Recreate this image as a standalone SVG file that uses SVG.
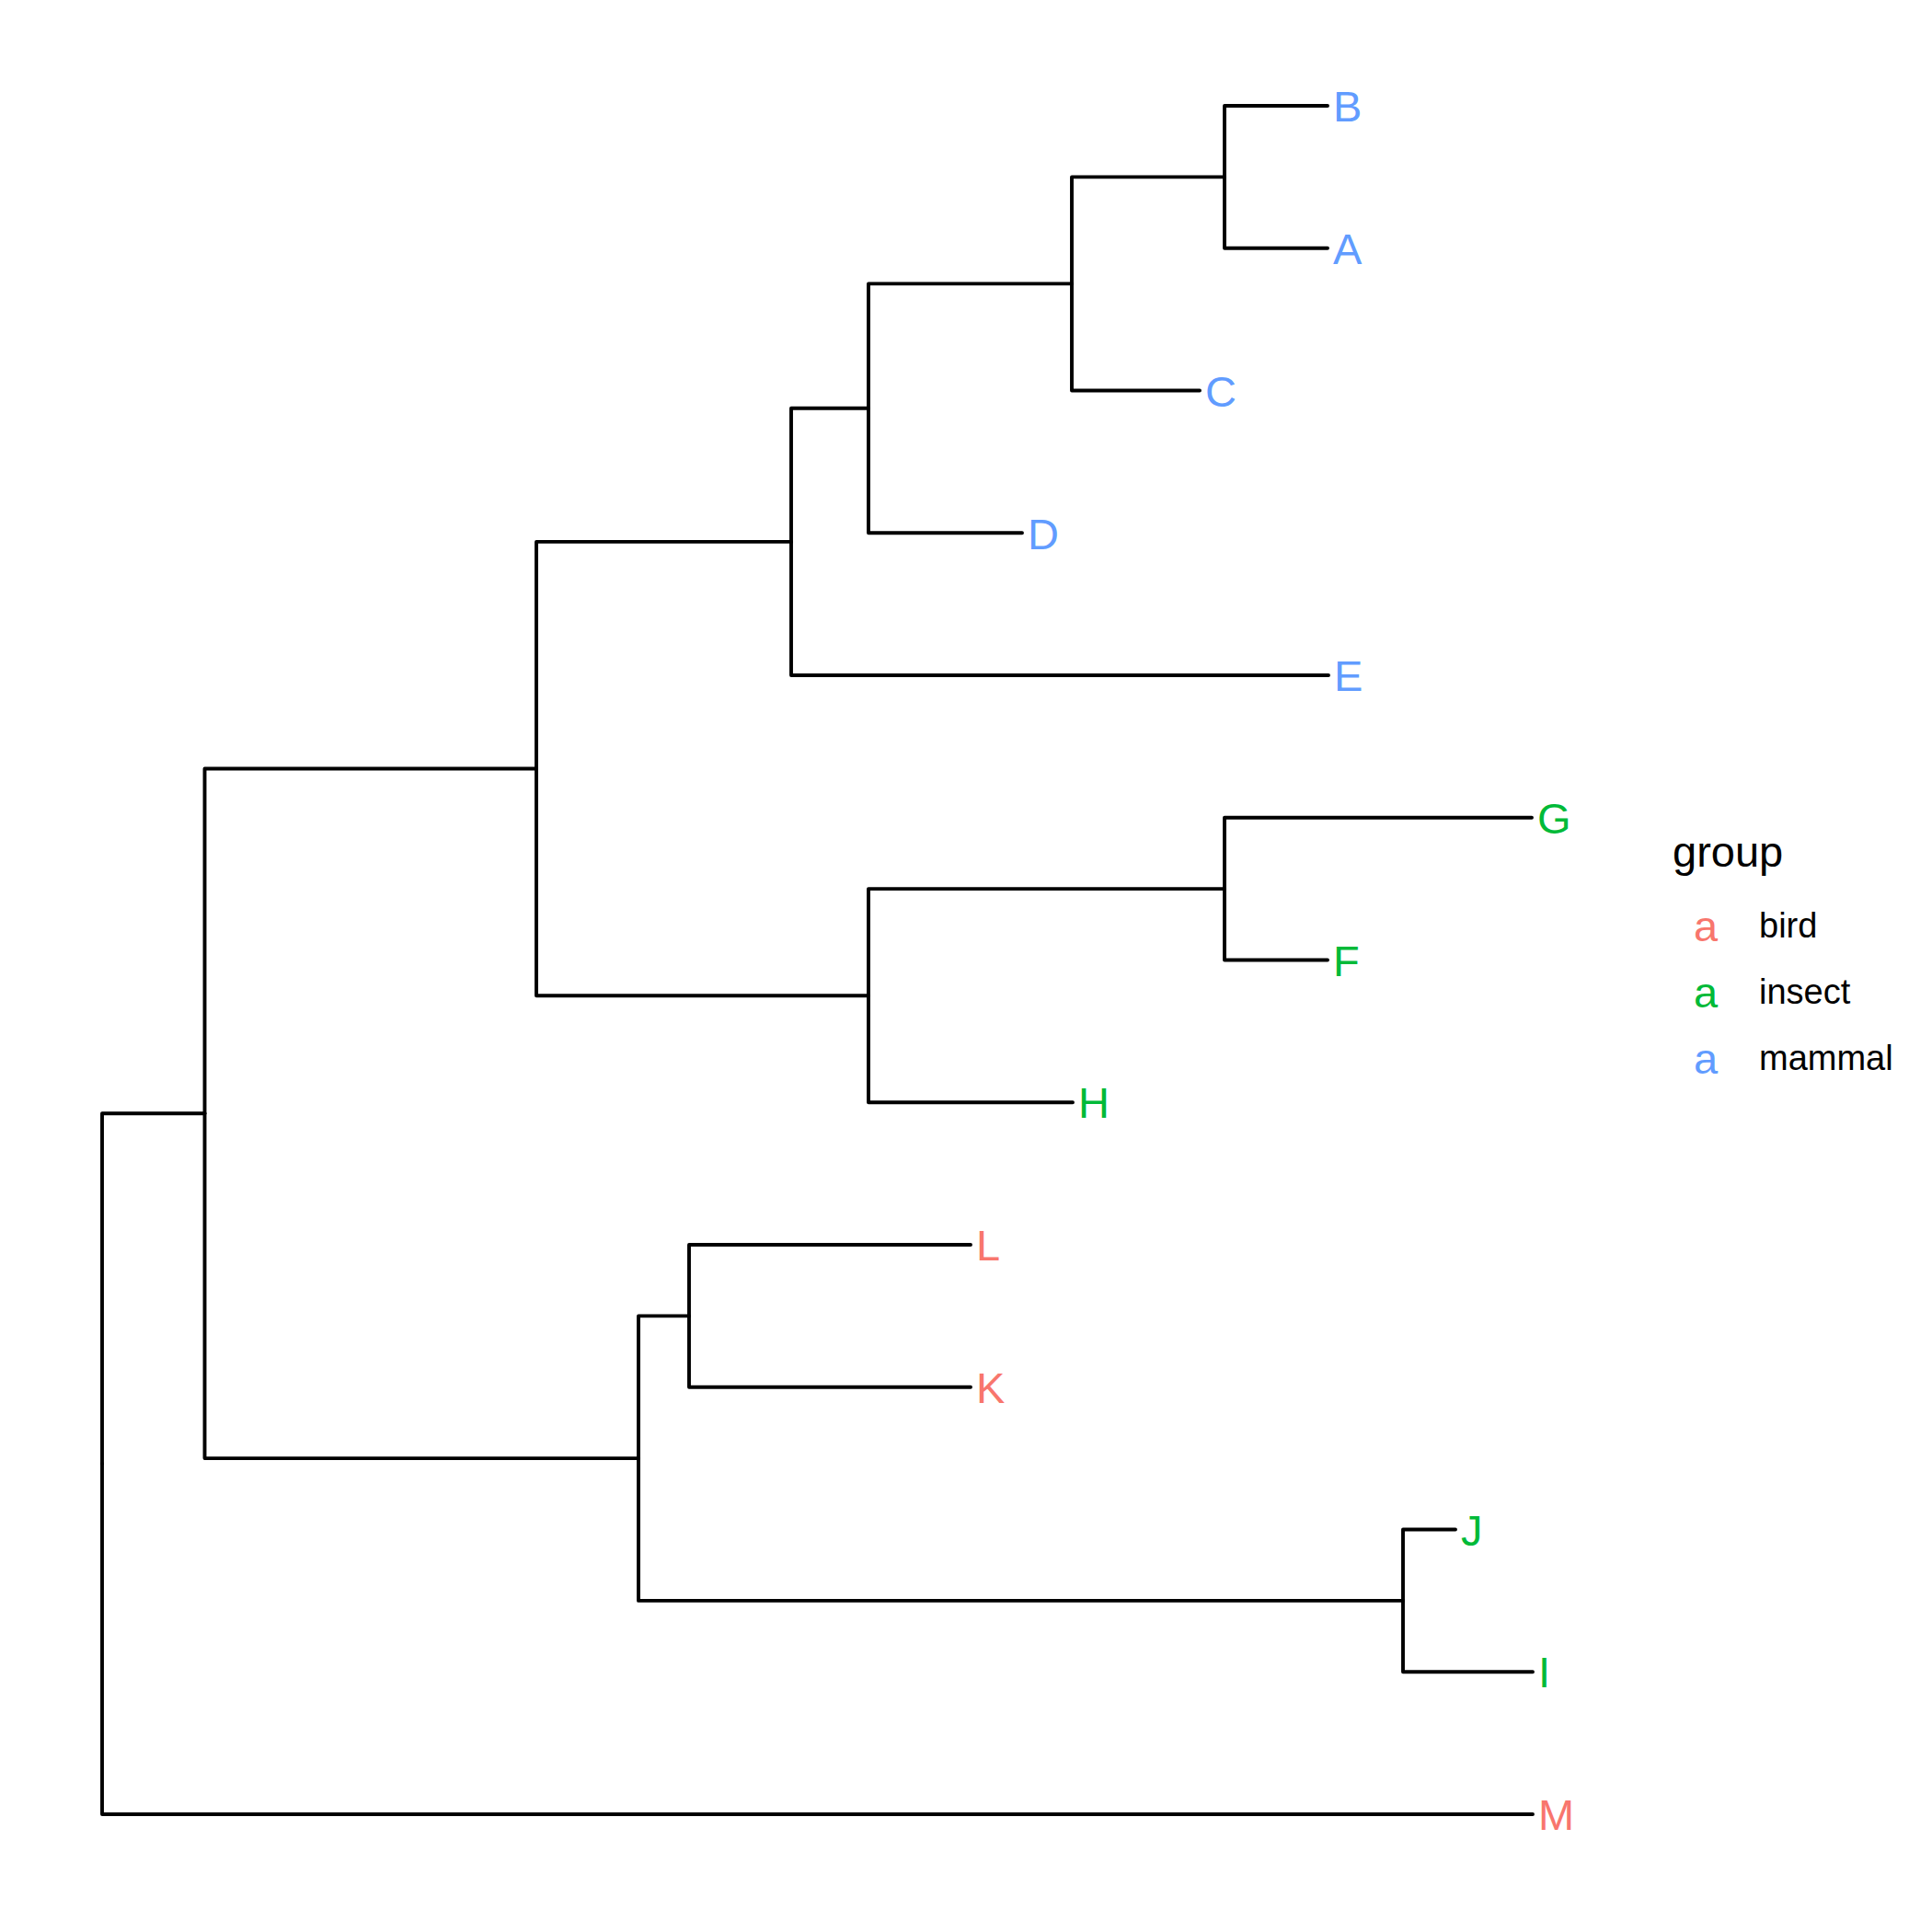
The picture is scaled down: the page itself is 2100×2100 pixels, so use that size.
<svg xmlns="http://www.w3.org/2000/svg" width="2100" height="2100" viewBox="0 0 2100 2100">
<style>
.e{fill:none;stroke:#000;stroke-width:3.9;stroke-linecap:round;stroke-linejoin:round}
.t{font-family:"Liberation Sans",Arial,sans-serif;font-size:47px}
.bird{fill:#F8766D}.insect{fill:#00BA38}.mammal{fill:#619CFF}
.lt{font-family:"Liberation Sans",Arial,sans-serif;font-size:38px;fill:#000}
.title{font-family:"Liberation Sans",Arial,sans-serif;font-size:47px;fill:#000}
</style>
<rect width="2100" height="2100" fill="#fff"/>
<g id="connectors">
<path class="e" d="M111 1591 V1210.3 H222.5"/>
<path class="e" d="M111 1591 V1972 H1666"/>
<path class="e" d="M222.5 1210.3 V835.5 H583"/>
<path class="e" d="M222.5 1210.3 V1585.1 H694"/>
<path class="e" d="M583 835.5 V588.9 H860"/>
<path class="e" d="M583 835.5 V1082.2 H944"/>
<path class="e" d="M860 588.9 V443.8 H944"/>
<path class="e" d="M860 588.9 V734 H1444"/>
<path class="e" d="M944 443.8 V308.4 H1165"/>
<path class="e" d="M944 443.8 V579.25 H1111"/>
<path class="e" d="M1165 308.4 V192.4 H1331"/>
<path class="e" d="M1165 308.4 V424.5 H1304"/>
<path class="e" d="M1331 192.4 V115 H1443"/>
<path class="e" d="M1331 192.4 V269.75 H1443"/>
<path class="e" d="M944 1082.2 V966.1 H1331"/>
<path class="e" d="M944 1082.2 V1198.25 H1166"/>
<path class="e" d="M1331 966.1 V888.75 H1665"/>
<path class="e" d="M1331 966.1 V1043.5 H1443"/>
<path class="e" d="M694 1585.1 V1430.4 H749"/>
<path class="e" d="M694 1585.1 V1739.9 H1525"/>
<path class="e" d="M749 1430.4 V1353 H1055"/>
<path class="e" d="M749 1430.4 V1507.75 H1055"/>
<path class="e" d="M1525 1739.9 V1662.5 H1582"/>
<path class="e" d="M1525 1739.9 V1817.25 H1666"/>
</g>
<g id="leaf-B"><text class="t mammal" x="1449" y="132">B</text></g>
<g id="leaf-A"><text class="t mammal" x="1449" y="287">A</text></g>
<g id="leaf-C"><text class="t mammal" x="1310" y="442">C</text></g>
<g id="leaf-D"><text class="t mammal" x="1117" y="597">D</text></g>
<g id="leaf-E"><text class="t mammal" x="1450" y="751">E</text></g>
<g id="leaf-G"><text class="t insect" x="1671" y="906">G</text></g>
<g id="leaf-F"><text class="t insect" x="1449" y="1061">F</text></g>
<g id="leaf-H"><text class="t insect" x="1172" y="1215">H</text></g>
<g id="leaf-L"><text class="t bird" x="1061" y="1370">L</text></g>
<g id="leaf-K"><text class="t bird" x="1061" y="1525">K</text></g>
<g id="leaf-J"><text class="t insect" x="1588" y="1680">J</text></g>
<g id="leaf-I"><text class="t insect" x="1672" y="1834">I</text></g>
<g id="leaf-M"><text class="t bird" x="1672" y="1989">M</text></g>
<g id="legend">
<text class="title" x="1818" y="942">group</text>
<text class="t bird" x="1854" y="1023" text-anchor="middle">a</text>
<text class="lt" x="1912" y="1019">bird</text>
<text class="t insect" x="1854" y="1095" text-anchor="middle">a</text>
<text class="lt" x="1912" y="1091">insect</text>
<text class="t mammal" x="1854" y="1167" text-anchor="middle">a</text>
<text class="lt" x="1912" y="1163">mammal</text>
</g>
</svg>
